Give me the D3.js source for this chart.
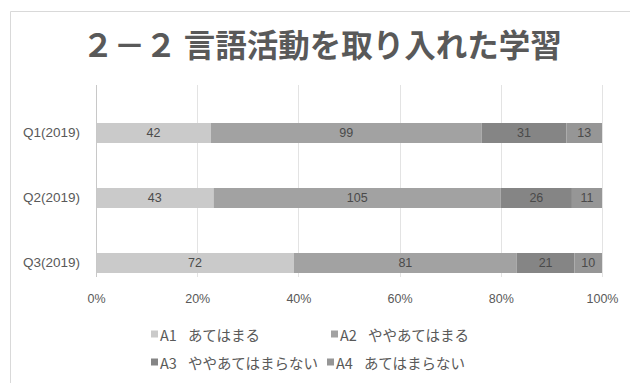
<!DOCTYPE html>
<html>
<head>
<meta charset="utf-8">
<script src="https://cdn.jsdelivr.net/npm/d3@7"></script>
<style>
  html, body { margin: 0; padding: 0; background: #fff; }
  svg { display: block; }
</style>
</head>
<body>
<svg id="chart" width="630" height="383"></svg>
<script>
// Survey results: counts per answer for each question
const categories = ["Q1(2019)", "Q2(2019)", "Q3(2019)"];
const seriesCodes = ["A1", "A2", "A3", "A4"];
const seriesNames = ["あてはまる", "ややあてはまる", "ややあてはまらない", "あてはまらない"];
const a1 = [42, 43, 72];
const a2 = [99, 105, 81];
const a3 = [31, 26, 21];
const a4 = [13, 11, 10];
const tickValues = [0, 0.2, 0.4, 0.6, 0.8, 1.0];
const titleText = "２－２ 言語活動を取り入れた学習";

const colors = ["#cacaca", "#a2a2a2", "#858585", "#969696"];
const latinFont = "'Liberation Sans', Arial, sans-serif";
const jpFont = "'Noto Sans CJK JP', 'Noto Sans', sans-serif";

const svg = d3.select("#chart");

// Chart frame
svg.append("path")
  .attr("d", "M10.5,383 V11.5 H630")
  .attr("fill", "none")
  .attr("stroke", "#d9d9d9")
  .attr("stroke-width", 1);

// Title
svg.append("text")
  .attr("x", 322)
  .attr("y", 43)
  .attr("text-anchor", "middle")
  .attr("dominant-baseline", "central")
  .attr("font-family", jpFont)
  .attr("font-weight", "bold")
  .attr("font-size", 31.5)
  .attr("fill", "#595959")
  .text(titleText);

// Build rows with percentage stacks
const seriesValues = [a1, a2, a3, a4];
const rows = categories.map((c, i) => {
  const vals = seriesValues.map(s => s[i]);
  const total = d3.sum(vals);
  const row = { cat: c, total };
  vals.forEach((v, k) => { row["s" + k] = v / total; row["v" + k] = v; });
  return row;
});
const keys = seriesCodes.map((_, k) => "s" + k);
const stacked = d3.stack().keys(keys)(rows);

const x = d3.scaleLinear().domain([0, 1]).range([96, 602]);
const y = d3.scaleBand()
  .domain(categories)
  .range([100.5, 295.5])
  .paddingInner(45 / 65)
  .paddingOuter(22.5 / 65);

const gridTop = 85, gridBottom = 277;

// Vertical gridlines
svg.append("g")
  .selectAll("line")
  .data(tickValues.slice(1))
  .join("line")
  .attr("x1", d => Math.round(x(d)) + 0.5)
  .attr("x2", d => Math.round(x(d)) + 0.5)
  .attr("y1", gridTop)
  .attr("y2", gridBottom)
  .attr("stroke", "#e3e3e3")
  .attr("stroke-width", 1);

// Bars
const layers = svg.append("g")
  .selectAll("g")
  .data(stacked)
  .join("g")
  .attr("fill", (d, i) => colors[i]);

layers.selectAll("rect")
  .data(d => d.map(p => ({ p, key: d.key })))
  .join("rect")
  .attr("x", d => x(d.p[0]))
  .attr("width", d => x(d.p[1]) - x(d.p[0]))
  .attr("y", d => y(d.p.data.cat))
  .attr("height", y.bandwidth());

// Value labels inside the segments
layers.selectAll("text")
  .data(d => d.map(p => ({ p, k: +d.key.slice(1) })))
  .join("text")
  .attr("x", d => (x(d.p[0]) + x(d.p[1])) / 2)
  .attr("y", d => y(d.p.data.cat) + y.bandwidth() / 2)
  .attr("text-anchor", "middle")
  .attr("dominant-baseline", "central")
  .attr("font-family", latinFont)
  .attr("font-size", 12.5)
  .attr("fill", "#4a4a4a")
  .text(d => d.p.data["v" + d.k]);

// Category axis line
svg.append("line")
  .attr("x1", 96.5).attr("x2", 96.5)
  .attr("y1", gridTop).attr("y2", gridBottom)
  .attr("stroke", "#c8c8c8")
  .attr("stroke-width", 1);

// Category labels
const yAxis = d3.axisLeft(y).tickSize(0).tickPadding(16);
const gy = svg.append("g")
  .attr("transform", "translate(96,0)")
  .call(yAxis);
gy.select(".domain").remove();
gy.selectAll("text")
  .attr("font-family", latinFont)
  .attr("font-size", 13.5)
  .attr("fill", "#595959");

// Percentage axis
const xAxis = d3.axisBottom(x)
  .tickValues(tickValues)
  .tickFormat(d3.format(".0%"))
  .tickSize(0)
  .tickPadding(0);
const gx = svg.append("g")
  .attr("transform", "translate(0,299)")
  .call(xAxis);
gx.select(".domain").remove();
gx.selectAll("text")
  .attr("dy", "0.35em")
  .attr("font-family", latinFont)
  .attr("font-size", 12.5)
  .attr("fill", "#595959");

// Legend: swatch, answer code, answer text
const legendPos = [[151, 334], [331, 334], [151, 362], [327, 362]];
const legend = svg.append("g")
  .selectAll("g")
  .data(seriesCodes)
  .join("g")
  .attr("transform", (d, i) => `translate(${legendPos[i][0]},${legendPos[i][1]})`);
legend.append("rect")
  .attr("x", 0).attr("y", -3.5)
  .attr("width", 7).attr("height", 7)
  .attr("fill", (d, i) => colors[i]);
const legendText = legend.append("text")
  .attr("y", 0)
  .attr("dominant-baseline", "central")
  .attr("font-family", jpFont)
  .attr("font-size", 14.5)
  .attr("fill", "#595959");
legendText.append("tspan")
  .attr("x", 9)
  .text(d => d);
legendText.append("tspan")
  .attr("x", 37)
  .text((d, i) => seriesNames[i]);
</script>
</body>
</html>
